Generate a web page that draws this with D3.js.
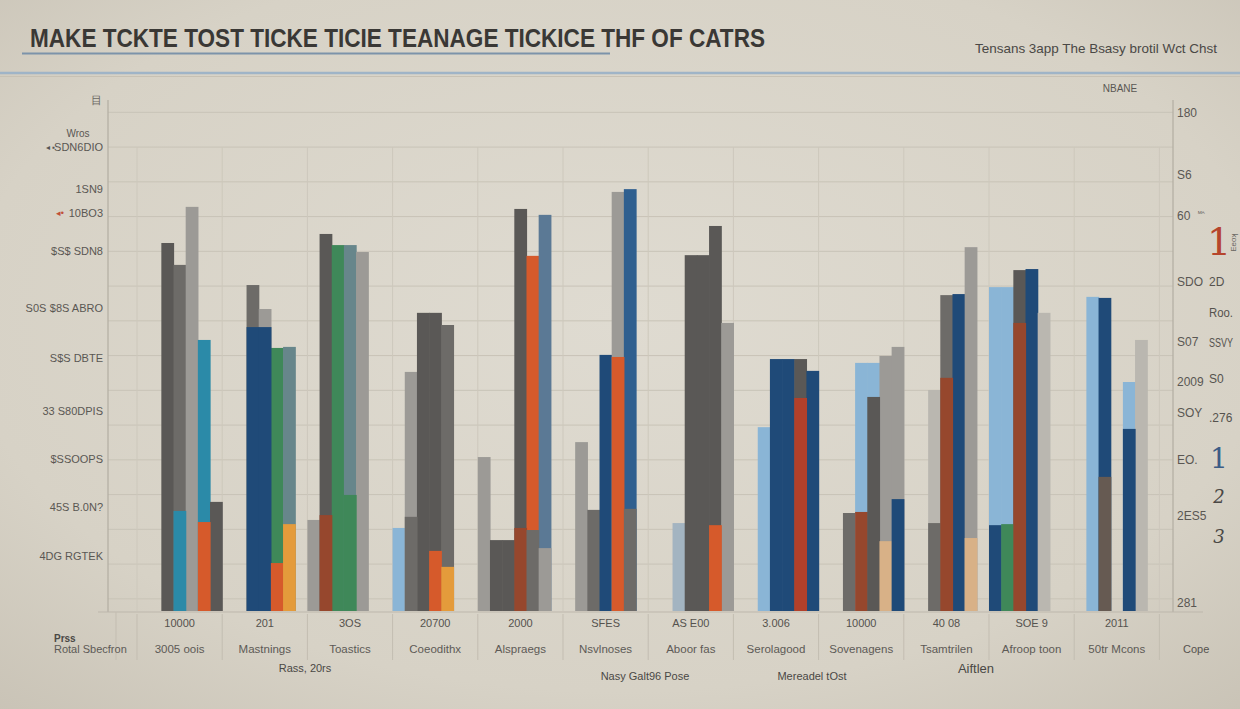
<!DOCTYPE html>
<html><head><meta charset="utf-8">
<script src="https://cdn.jsdelivr.net/npm/d3@7"></script>
<style>
html,body{margin:0;padding:0;background:#d8d3c7;}
svg{display:block;font-family:"Liberation Sans",Arial,sans-serif;}
</style>
</head><body>
<svg id="c" width="1240" height="709"></svg>
<script>
// ---------------- DATA ----------------
const titleText = "MAKE TCKTE TOST TICKE TICIE TEANAGE TICKICE THF OF CATRS";
const subtitleText = "Tensans 3app The Bsasy brotil Wct Chst";
const categories = ["10000","201","3OS","20700","2000","SFES","AS E00","3.006","10000","40 08","SOE 9","2011"];
const subLabels = ["3005 oois","Mastnings","Toastics","Coeodithx","Alspraegs","Nsvlnoses","Aboor fas","Serolagood","Sovenagens","Tsamtrilen","Afroop toon","50tr Mcons"];

// per category: 8 slots, kind code per slot ('.' = none)
const backKinds = ["..DGLTD.","..GLRQ..","LDRQL...","KLDDG...","LDDDOS..",".LGNLB..","..PDDDL.","..KNNDN.","..GKKLL.","..WGNL..","KKDNW...",".KN.KW.."];
const backValues = [
  [null,null,105.9,99.6,116.3,78.0,31.4,null],
  [null,null,93.8,86.9,75.7,76.0,null,null],
  [26.2,108.5,105.3,105.3,103.3,null,null,null],
  [23.9,68.8,85.8,85.8,82.3,null,null,null],
  [44.3,20.4,20.4,115.7,102.2,114.0,null,null],
  [null,48.6,29.1,73.7,120.6,121.4,null,null],
  [null,null,25.3,102.4,102.4,110.8,82.9,null],
  [null,null,52.9,72.5,72.5,72.5,69.1,null],
  [null,null,28.2,71.4,71.4,73.4,76.0,null],
  [null,null,63.6,90.9,91.2,104.7,null,null],
  [93.2,93.2,98.1,98.4,85.8,null,null,null],
  [null,90.4,90.1,null,65.9,78.0,null,null]
];
const frontKinds = ["...T.O..","..NNOA..",".U.R....",".G.OA...","...UGL..","....OG..",".....O..",".....E..","...UDFN.","..GU.F..","NRU.....","..M.N..."];
const frontValues = [
  [null,null,null,28.8,null,25.6,null,null],
  [null,null,81.7,81.7,13.8,25.0,null,null],
  [null,27.6,null,33.4,null,null,null,null],
  [null,27.1,null,17.3,12.7,null,null,null],
  [null,null,null,23.9,23.3,18.1,null,null],
  [null,null,null,null,73.1,29.4,null,null],
  [null,null,null,null,null,24.7,null,null],
  [null,null,null,null,null,61.3,null,null],
  [null,null,null,28.5,61.6,20.1,32.2,null],
  [null,null,25.3,67.1,null,21.0,null,null],
  [24.7,25.0,82.9,null,null,null,null,null],
  [null,null,38.6,null,52.4,null,null,null]
];

const leftTickValues = [133.5,121.4,114.5,103.6,87.2,72.8,57.5,43.7,29.9,15.8];
const leftTickLabels = ["SDN6DIO","1SN9","10BO3","$S$ SDN8","$8S ABRO","S$S DBTE","33 S80DPIS","$SSOOPS","45S B.0N?","4DG RGTEK"];
const rightTickValues = [143.3,125.5,113.7,94.7,77.4,65.9,57.0,43.5,27.3,2.3];
const rightTickLabels = ["180","S6","60","SDO","S07","2009","SOY","EO.","2ES5","281"];
const rightNoteValues = [94.7,85.8,77.1,66.8,55.5];
const rightNoteLabels = ["2D","Roo.","SSVY","S0",".276"];
const rightRankValues = [106.2,44.0,32.8,21.3];
const rightRankLabels = ["1","1","2","3"];
const gridValues = d3.range(3.5, 144, 10);

// ---------------- STYLE ----------------
const kindColor = d3.scaleOrdinal()
  .domain(["D","G","L","W","N","B","S","K","P","T","R","Q","O","A","U","E","F","M"])
  .range(["#5a5856","#6d6b68","#9c9a96","#bab7b0","#1f4a78","#2f5f8f","#5b7995","#8ab5d6","#a3b4c1","#2b8aa8","#3f8859","#67868b","#d65a2b","#e49b3b","#96472d","#b2402a","#d8b187","#665a52"]);

const W = 1240, H = 709;
const svg = d3.select("#c");
const defs = svg.append("defs");
const bg = defs.append("radialGradient").attr("id","bg").attr("cx","50%").attr("cy","45%").attr("r","75%");
bg.append("stop").attr("offset","0%").attr("stop-color","#dfdbd1");
bg.append("stop").attr("offset","70%").attr("stop-color","#d7d2c6");
bg.append("stop").attr("offset","100%").attr("stop-color","#c9c3b6");
svg.append("rect").attr("width",W).attr("height",H).attr("fill","url(#bg)");

// scales
const y = d3.scaleLinear().domain([0,150]).range([611, 611 - 150*3.475]);
const x = d3.scaleBand().domain(d3.range(categories.length)).range([137, 137 + 85.2*12]).paddingInner(0).paddingOuter(0);
const slot = d3.scaleLinear().domain([0,7]).range([0, x.step()]);
const slotW = slot(1) - slot(0);

// header
svg.append("text").attr("x",30).attr("y",47).attr("font-size",25).attr("font-weight","bold")
  .attr("fill","#3a3835").attr("textLength",735).attr("lengthAdjust","spacingAndGlyphs").text(titleText);
svg.append("line").attr("x1",22).attr("x2",610).attr("y1",53.5).attr("y2",53.5).attr("stroke","#7c93aa").attr("stroke-width",2);
svg.append("text").attr("x",1217).attr("y",53).attr("text-anchor","end").attr("font-size",13)
  .attr("fill","#4a4845").attr("textLength",242).attr("lengthAdjust","spacingAndGlyphs").text(subtitleText);
svg.append("line").attr("x1",0).attr("x2",W).attr("y1",73).attr("y2",73).attr("stroke","#9fb4c7").attr("stroke-width",2.5);
svg.append("line").attr("x1",0).attr("x2",W).attr("y1",76.5).attr("y2",76.5).attr("stroke","#c7c1b4").attr("stroke-width",1);

// grid
const plotL = 108, plotR = 1173;
svg.append("g").selectAll("line").data(gridValues).join("line")
  .attr("x1",plotL).attr("x2",plotR).attr("y1",d=>y(d)).attr("y2",d=>y(d))
  .attr("stroke","#c8c3b7").attr("stroke-width",1);
svg.append("g").selectAll("line").data(d3.range(categories.length+1)).join("line")
  .attr("x1",i=>i<categories.length?x(i):x.range()[1]).attr("x2",i=>i<categories.length?x(i):x.range()[1])
  .attr("y1",y(gridValues[gridValues.length-2])).attr("y2",y(0))
  .attr("stroke","#cdc8bc").attr("stroke-width",1);

// axes lines
svg.append("line").attr("x1",plotL).attr("x2",plotL).attr("y1",100).attr("y2",612).attr("stroke","#b3ada2").attr("stroke-width",1.2);
svg.append("line").attr("x1",plotR).attr("x2",plotR).attr("y1",100).attr("y2",612).attr("stroke","#b3ada2").attr("stroke-width",1.2);

// bars
function drawLayer(kinds, values, cls){
  const items = [];
  values.forEach((row,i)=>row.forEach((v,k)=>{
    const kind = kinds[i][k];
    if (v!=null && kind!=='.') items.push({i,k,v,kind});
  }));
  svg.append("g").attr("class",cls).selectAll("rect").data(items).join("rect")
    .attr("x",d=>x(d.i)+slot(d.k))
    .attr("width",slotW+0.6)
    .attr("y",d=>y(d.v))
    .attr("height",d=>y(0)-y(d.v))
    .attr("fill",d=>kindColor(d.kind));
}
drawLayer(backKinds, backValues, "back");
drawLayer(frontKinds, frontValues, "front");

// baseline
svg.append("line").attr("x1",plotL-10).attr("x2",plotR+30).attr("y1",612).attr("y2",612).attr("stroke","#bdb7ac").attr("stroke-width",1);

// left labels
svg.append("g").selectAll("text").data(leftTickValues).join("text")
  .attr("x",103).attr("y",d=>y(d)).attr("dy","0.35em").attr("text-anchor","end")
  .attr("font-size",11).attr("fill","#5a5753").text((d,i)=>leftTickLabels[i]);
svg.append("text").attr("x",78).attr("y",133).attr("dy","0.35em").attr("text-anchor","middle").attr("font-size",10).attr("fill","#5a5753").text("Wros");
svg.append("text").attr("x",55).attr("y",y(133.5)).attr("dy","0.35em").attr("text-anchor","end").attr("font-size",8).attr("fill","#555").text("◂ ▪");
svg.append("text").attr("x",64).attr("y",y(114.5)).attr("dy","0.35em").attr("text-anchor","end").attr("font-size",9).attr("fill","#c0503a").text("◂•");
svg.append("text").attr("x",36).attr("y",y(87.2)).attr("dy","0.35em").attr("text-anchor","middle").attr("font-size",11).attr("fill","#5a5753").text("S0S");
svg.append("text").attr("x",96).attr("y",100).attr("dy","0.35em").attr("text-anchor","middle").attr("font-size",11).attr("fill","#6a6762").text("目");

// right labels
svg.append("g").selectAll("text").data(rightTickValues).join("text")
  .attr("x",1177).attr("y",d=>y(d)).attr("dy","0.35em")
  .attr("font-size",12).attr("fill","#5a5753").text((d,i)=>rightTickLabels[i]);
svg.append("g").selectAll("text").data(rightNoteValues).join("text")
  .attr("x",1209).attr("y",d=>y(d)).attr("dy","0.35em")
  .attr("font-size",12).attr("fill","#55524e")
  .each(function(d,i){ const t=d3.select(this).text(rightNoteLabels[i]); if (this.getComputedTextLength()>24) t.attr("textLength",24).attr("lengthAdjust","spacingAndGlyphs"); });
const rankColors = ["#b6452c","#3c5c86","#4a4845","#4a4845"];
const rankSizes = [38,28,18,18];
svg.append("g").selectAll("text").data(rightRankValues).join("text")
  .attr("x",1219).attr("y",d=>y(d)).attr("dy","0.35em").attr("text-anchor","middle")
  .attr("font-family","'DejaVu Serif',serif").attr("font-style",(d,i)=>i>1?"italic":"normal")
  .attr("font-size",(d,i)=>rankSizes[i]).attr("fill",(d,i)=>rankColors[i]).text((d,i)=>rightRankLabels[i]);
svg.append("text").attr("x",1120).attr("y",88).attr("dy","0.35em").attr("text-anchor","middle").attr("font-size",10).attr("fill","#5a5753").text("NBANE");
svg.append("text").attr("x",1198).attr("y",y(114.5)).attr("dy","0.35em").attr("font-size",7).attr("fill","#6a6762").text("ᴹᴬ");
svg.append("text").attr("transform",`translate(1236,${y(106)}) rotate(-90)`).attr("text-anchor","middle").attr("font-size",8).attr("fill","#6a6762").text("Eeoʞ");
svg.append("text").attr("x",1183).attr("y",649).attr("dy","0.35em").attr("font-size",11).attr("fill","#55524e").text("Cope");

// bottom axis
const xAxis = d3.axisBottom(x).tickSize(0).tickPadding(0).tickFormat(i=>categories[i]);
const gx = svg.append("g").attr("transform","translate(0,619)").call(xAxis);
gx.select(".domain").remove();
gx.selectAll("text").attr("font-size",11).attr("fill","#55524e").attr("font-family","'Liberation Sans',Arial,sans-serif");
svg.append("g").selectAll("text").data(subLabels).join("text")
  .attr("x",(d,i)=>x(i)+x.bandwidth()/2).attr("y",649).attr("dy","0.35em").attr("text-anchor","middle")
  .attr("font-size",11.5).attr("fill","#5d5a56").text(d=>d);
svg.append("g").selectAll("line").data(d3.range(categories.length+1)).join("line")
  .attr("x1",i=>i<categories.length?x(i):x.range()[1]).attr("x2",i=>i<categories.length?x(i):x.range()[1])
  .attr("y1",614).attr("y2",660).attr("stroke","#c3bdb1").attr("stroke-width",1);
svg.append("line").attr("x1",116).attr("x2",116).attr("y1",612).attr("y2",660).attr("stroke","#c3bdb1");
svg.append("text").attr("x",54).attr("y",638).attr("dy","0.35em").attr("font-size",10).attr("font-weight","bold").attr("fill","#4a4845").text("Prss");
svg.append("text").attr("x",54).attr("y",649).attr("dy","0.35em").attr("font-size",11).attr("fill","#5d5a56").text("Rotal Sbecfron");
svg.append("text").attr("x",305).attr("y",668).attr("dy","0.35em").attr("text-anchor","middle").attr("font-size",11).attr("fill","#4a4845").text("Rass, 20rs");
svg.append("text").attr("x",976).attr("y",668).attr("dy","0.35em").attr("text-anchor","middle").attr("font-size",13).attr("fill","#4a4845").text("Aiftlen");
svg.append("text").attr("x",645).attr("y",676).attr("dy","0.35em").attr("text-anchor","middle").attr("font-size",11).attr("fill","#4a4845").text("Nasy Galt96 Pose");
svg.append("text").attr("x",812).attr("y",676).attr("dy","0.35em").attr("text-anchor","middle").attr("font-size",11).attr("fill","#4a4845").text("Mereadel tOst");
</script>
</body></html>
